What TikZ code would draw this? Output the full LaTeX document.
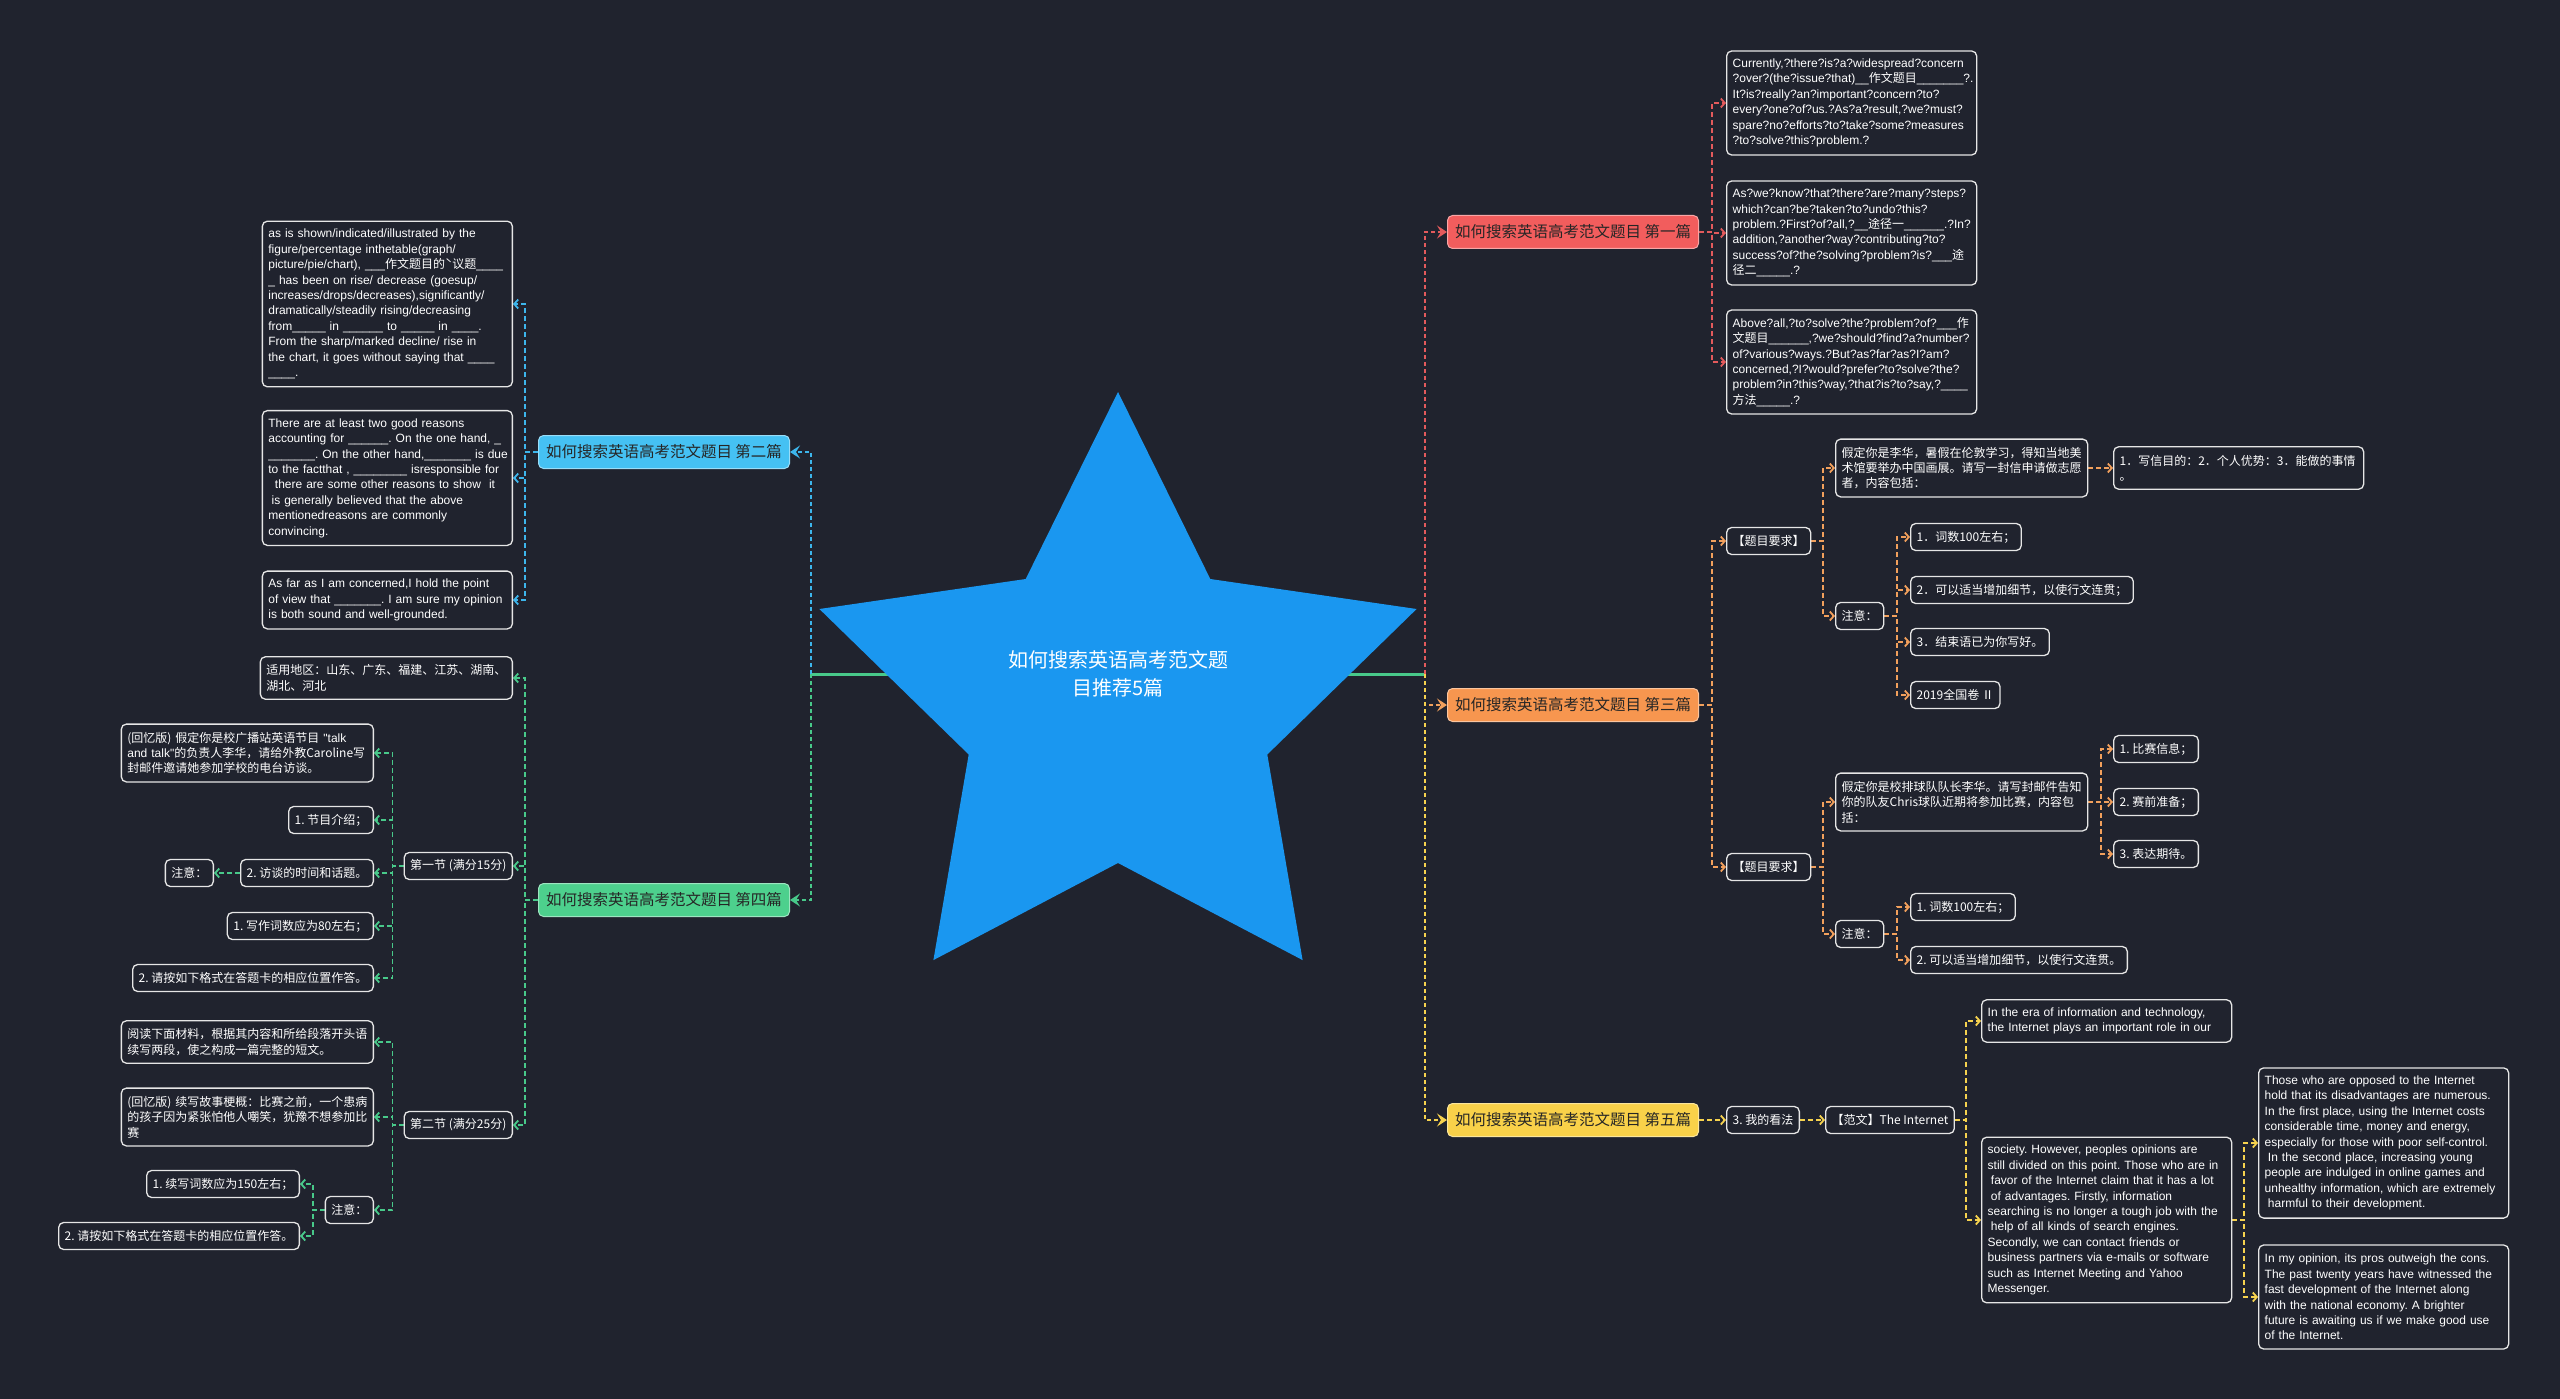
\documentclass[tikz,border=0pt]{standalone}
\usepackage{fontspec}
\setmainfont{Noto Sans CJK SC}
\newfontfamily\cjk{Noto Sans CJK SC}
\newfontfamily\lat{Liberation Sans}
\usetikzlibrary{arrows.meta}
\setlength{\parindent}{0pt}
\frenchspacing
\definecolor{bgc}{HTML}{20232E}
\definecolor{starc}{HTML}{1A97F0}
\definecolor{cred}{HTML}{F25D5D}
\definecolor{lred}{HTML}{E35A5C}
\definecolor{cblue}{HTML}{45C1F3}
\definecolor{lblue}{HTML}{3DB6EC}
\definecolor{corange}{HTML}{F7964F}
\definecolor{lorange}{HTML}{F2A05C}
\definecolor{cgreen}{HTML}{4DD08D}
\definecolor{lgreen}{HTML}{48C98A}
\definecolor{cyellow}{HTML}{F9D149}
\definecolor{lyellow}{HTML}{F6D24E}
\definecolor{ttext}{HTML}{262626}
\definecolor{bline}{HTML}{E6E6E6}
\newcommand\myfsz{\fontsize{12pt}{15.4pt}\selectfont}
\newcommand\myfen{\lat\fontsize{12pt}{15.4pt}\selectfont\frenchspacing}
\newcommand\ml[1]{\mbox{#1}}
\pgfdeclarelayer{back}
\pgfdeclarelayer{lines}
\pgfsetlayers{back,lines,main}
\begin{document}
\begin{tikzpicture}[x=1pt,y=-1pt,
 tbox/.style={draw=bline, line width=1.3pt, rounded corners=5pt, fill=bgc, text=white, inner xsep=6pt, inner ysep=0pt, minimum height=27pt, font=\myfsz},
 para/.style={tbox, align=left, text width=#1},
 en/.style={font=\myfen},
 nl/.style={minimum height={(#1-1)*15.4pt+27pt}},
 topic/.style={rounded corners=5pt, line width=1pt, inner xsep=7pt, inner ysep=0pt, minimum height=33pt, minimum width=251pt, text=ttext, font=\fontsize{15.5pt}{18pt}\selectfont},
 conn/.style={draw=#1, line width=1.8pt, dash pattern=on 5pt off 3pt, -{Straight Barb[length=4pt,width=9pt]}},
 mainconn/.style={draw=#1, line width=2pt, dash pattern=on 4pt off 3pt, -{Stealth[length=10pt,width=13pt,inset=4pt]}}
]
\begin{pgfonlayer}{back}
\fill[bgc] (0,0) rectangle (2560,1399);
\end{pgfonlayer}
\useasboundingbox (0,0) rectangle (2560,1399);

% central star
\fill[starc] (1118,392) -- (1210.3,579) -- (1416.6,609) -- (1267.3,754.5) -- (1302.6,960.1) -- (1118,863) -- (933.4,960.1) -- (968.7,754.5) -- (819.4,609) -- (1025.7,579) -- cycle;
\node[text=white, align=center, font=\fontsize{20pt}{28pt}\selectfont] (root) at (1118,674) {如何搜索英语高考范文题\\目推荐5篇};
\coordinate (jl) at (811,674);
\coordinate (jr) at (1425,674);

% main topics
\node[topic, fill=cred, draw=cred!55!white, anchor=west] (t1) at (1447,232) {如何搜索英语高考范文题目 第一篇};
\node[topic, fill=corange, draw=corange!55!white, anchor=west] (t3) at (1447,705) {如何搜索英语高考范文题目 第三篇};
\node[topic, fill=cyellow, draw=cyellow!55!white, anchor=west] (t5) at (1447,1120) {如何搜索英语高考范文题目 第五篇};
\node[topic, fill=cblue, draw=cblue!55!white, anchor=east] (t2) at (790,452) {如何搜索英语高考范文题目 第二篇};
\node[topic, fill=cgreen, draw=cgreen!55!white, anchor=east] (t4) at (790,900) {如何搜索英语高考范文题目 第四篇};

% first (red)
\node[para=238pt, en, nl=6, anchor=west] (r1) at (1726,103) {\ml{Currently,?there?is?a?widespread?concern}\\\ml{?over?(the?issue?that)\_\_{\cjk 作文题目}\_\_\_\_\_\_\_?.}\\\ml{It?is?really?an?important?concern?to?}\\\ml{every?one?of?us.?As?a?result,?we?must?}\\\ml{spare?no?efforts?to?take?some?measures}\\\ml{?to?solve?this?problem.?}};
\node[para=238pt, en, nl=6, anchor=west] (r2) at (1726,233) {\ml{As?we?know?that?there?are?many?steps?}\\\ml{which?can?be?taken?to?undo?this?}\\\ml{problem.?First?of?all,?\_\_{\cjk 途径一}\_\_\_\_\_\_.?In?}\\\ml{addition,?another?way?contributing?to?}\\\ml{success?of?the?solving?problem?is?\_\_\_{\cjk 途}}\\\ml{{\cjk 径二}\_\_\_\_\_.?}};
\node[para=238pt, en, nl=6, anchor=west] (r3) at (1726,362) {\ml{Above?all,?to?solve?the?problem?of?\_\_\_{\cjk 作}}\\\ml{{\cjk 文题目}\_\_\_\_\_\_,?we?should?find?a?number?}\\\ml{of?various?ways.?But?as?far?as?I?am?}\\\ml{concerned,?I?would?prefer?to?solve?the?}\\\ml{problem?in?this?way,?that?is?to?say,?\_\_\_\_}\\\ml{{\cjk 方法}\_\_\_\_\_.?}};

% third (orange)
\node[tbox, anchor=west] (o1) at (1726,541) {【题目要求】};
\node[para=240pt, nl=3, anchor=west] (o1a) at (1835,468) {假定你是李华，暑假在伦敦学习，得知当地美\\术馆要举办中国画展。请写一封信申请做志愿\\者，内容包括：};
\node[para=238pt, nl=2, anchor=west] (o1a1) at (2113,468) {1．写信目的：2．个人优势：3．能做的事情\\。};
\node[tbox, anchor=west] (o1b) at (1835,616) {注意：};
\node[tbox, anchor=west] (o1b1) at (1910,537) {1．词数100左右；};
\node[tbox, anchor=west] (o1b2) at (1910,590) {2．可以适当增加细节，以使行文连贯；};
\node[tbox, anchor=west] (o1b3) at (1910,642) {3．结束语已为你写好。};
\node[tbox, anchor=west] (o1b4) at (1910,695) {2019全国卷 Ⅱ};
\node[tbox, anchor=west] (o2) at (1726,867) {【题目要求】};
\node[para=240pt, nl=3, anchor=west] (o2a) at (1835,802) {假定你是校排球队队长李华。请写封邮件告知\\你的队友Chris球队近期将参加比赛，内容包\\括：};
\node[tbox, anchor=west] (o2a1) at (2113,749) {1. 比赛信息；};
\node[tbox, anchor=west] (o2a2) at (2113,802) {2. 赛前准备；};
\node[tbox, anchor=west] (o2a3) at (2113,854) {3. 表达期待。};
\node[tbox, anchor=west] (o2b) at (1835,934) {注意：};
\node[tbox, anchor=west] (o2b1) at (1910,907) {1. 词数100左右；};
\node[tbox, anchor=west] (o2b2) at (1910,960) {2. 可以适当增加细节，以使行文连贯。};

% fifth (yellow)
\node[tbox, anchor=west] (y1) at (1726,1120) {3. 我的看法};
\node[tbox, anchor=west] (y2) at (1825,1120) {【范文】The Internet};
\node[para=238pt, en, nl=2, anchor=west] (y2a) at (1981,1021) {\ml{In the era of information and technology,}\\\ml{the Internet plays an important role in our}};
\node[para=238pt, en, nl=10, anchor=west] (y2b) at (1981,1220) {\ml{society. However, peoples opinions are}\\\ml{still divided on this point. Those who are in}\\\ml{\hspace*{3.3pt}favor of the Internet claim that it has a lot}\\\ml{\hspace*{3.3pt}of advantages. Firstly, information}\\\ml{searching is no longer a tough job with the}\\\ml{\hspace*{3.3pt}help of all kinds of search engines.}\\\ml{Secondly, we can contact friends or}\\\ml{business partners via e-mails or software}\\\ml{such as Internet Meeting and Yahoo}\\\ml{Messenger.}};
\node[para=238pt, en, nl=9, anchor=west] (y2b1) at (2258,1143) {\ml{Those who are opposed to the Internet}\\\ml{hold that its disadvantages are numerous.}\\\ml{In the first place, using the Internet costs}\\\ml{considerable time, money and energy,}\\\ml{especially for those with poor self-control.}\\\ml{\hspace*{3.3pt}In the second place, increasing young}\\\ml{people are indulged in online games and}\\\ml{unhealthy information, which are extremely}\\\ml{\hspace*{3.3pt}harmful to their development.}};
\node[para=238pt, en, nl=6, anchor=west] (y2b2) at (2258,1297) {\ml{In my opinion, its pros outweigh the cons.}\\\ml{The past twenty years have witnessed the}\\\ml{fast development of the Internet along}\\\ml{with the national economy. A brighter}\\\ml{future is awaiting us if we make good use}\\\ml{of the Internet.}};

% second (blue)
\node[para=238pt, en, nl=10, anchor=east] (b1) at (513,304) {\ml{as is shown/indicated/illustrated by the}\\\ml{figure/percentage inthetable(graph/}\\\ml{picture/pie/chart), \_\_\_{\cjk 作文题目的ˋ议题}\_\_\_\_}\\\ml{\_ has been on rise/ decrease (goesup/}\\\ml{increases/drops/decreases),significantly/}\\\ml{dramatically/steadily rising/decreasing}\\\ml{from\_\_\_\_\_ in \_\_\_\_\_\_ to \_\_\_\_\_ in \_\_\_\_.}\\\ml{From the sharp/marked decline/ rise in}\\\ml{the chart, it goes without saying that \_\_\_\_}\\\ml{\_\_\_\_.}};
\node[para=238pt, en, nl=8, anchor=east] (b2) at (513,478) {\ml{There are at least two good reasons}\\\ml{accounting for \_\_\_\_\_\_. On the one hand, \_}\\\ml{\_\_\_\_\_\_\_. On the other hand,\_\_\_\_\_\_\_ is due}\\\ml{to the factthat , \_\_\_\_\_\_\_\_ isresponsible for}\\\ml{\hspace*{6.6pt}there are some other reasons to show\ \ it}\\\ml{\hspace*{3.3pt}is generally believed that the above}\\\ml{mentionedreasons are commonly}\\\ml{convincing.}};
\node[para=238pt, en, nl=3, anchor=east] (b3) at (513,600) {\ml{As far as I am concerned,I hold the point}\\\ml{of view that \_\_\_\_\_\_\_. I am sure my opinion}\\\ml{is both sound and well-grounded.}};

% fourth (green)
\node[para=240pt, nl=2, anchor=east] (g1) at (513,678) {适用地区：山东、广东、福建、江苏、湖南、\\湖北、河北};
\node[tbox, anchor=east] (g2) at (513,866) {第一节 (满分15分)};
\node[tbox, anchor=east] (g3) at (513,1125) {第二节 (满分25分)};
\node[para=240pt, nl=3, anchor=east] (g2a) at (374,753) {\ml{(回忆版) 假定你是校广播站英语节目 {\lat "talk}}\\\ml{{\lat and talk"}的负责人李华，请给外教Caroline写}\\封邮件邀请她参加学校的电台访谈。};
\node[tbox, anchor=east] (g2b) at (374,820) {1. 节目介绍；};
\node[tbox, anchor=east] (g2c) at (374,873) {2. 访谈的时间和话题。};
\node[tbox, anchor=east] (g2c1) at (214,873) {注意：};
\node[tbox, anchor=east] (g2d) at (374,926) {1. 写作词数应为80左右；};
\node[tbox, anchor=east] (g2e) at (374,978) {2. 请按如下格式在答题卡的相应位置作答。};
\node[para=240pt, nl=2, anchor=east] (g3a) at (374,1042) {阅读下面材料，根据其内容和所给段落开头语\\续写两段，使之构成一篇完整的短文。};
\node[para=240pt, nl=3, anchor=east] (g3b) at (374,1117) {\ml{(回忆版) 续写故事梗概：比赛之前，一个患病}\\的孩子因为紧张怕他人嘲笑，犹豫不想参加比\\赛};
\node[tbox, anchor=east] (g3c) at (374,1210) {注意：};
\node[tbox, anchor=east] (g3c1) at (300,1184) {1. 续写词数应为150左右；};
\node[tbox, anchor=east] (g3c2) at (300,1236) {2. 请按如下格式在答题卡的相应位置作答。};

% connectors
\begin{pgfonlayer}{lines}
\draw[lgreen, line width=3pt] (jl) -- (jr);
\draw[mainconn=lred] (jr) |- (t1.west);
\draw[mainconn=lorange] (jr) |- (t3.west);
\draw[mainconn=lyellow] (jr) |- (t5.west);
\draw[mainconn=lblue] (jl) |- (t2.east);
\draw[mainconn=lgreen] (jl) |- (t4.east);
\foreach \n in {r1,r2,r3} \draw[conn=lred] (t1.east) -- ++(13,0) |- (\n.west);
\foreach \n in {o1,o2} \draw[conn=lorange] (t3.east) -- ++(13,0) |- (\n.west);
\foreach \n in {o1a,o1b} \draw[conn=lorange] (o1.east) -- ++(12,0) |- (\n.west);
\draw[conn=lorange] (o1a.east) -- (o1a1.west);
\foreach \n in {o1b1,o1b2,o1b3,o1b4} \draw[conn=lorange] (o1b.east) -- ++(13,0) |- (\n.west);
\foreach \n in {o2a,o2b} \draw[conn=lorange] (o2.east) -- ++(12,0) |- (\n.west);
\foreach \n in {o2a1,o2a2,o2a3} \draw[conn=lorange] (o2a.east) -- ++(13,0) |- (\n.west);
\foreach \n in {o2b1,o2b2} \draw[conn=lorange] (o2b.east) -- ++(13,0) |- (\n.west);
\draw[conn=lyellow] (t5.east) -- (y1.west);
\draw[conn=lyellow] (y1.east) -- (y2.west);
\foreach \n in {y2a,y2b} \draw[conn=lyellow] (y2.east) -- ++(11,0) |- (\n.west);
\foreach \n in {y2b1,y2b2} \draw[conn=lyellow] (y2b.east) -- ++(12,0) |- (\n.west);
\foreach \n in {b1,b2,b3} \draw[conn=lblue] (t2.west) -- ++(-13,0) |- (\n.east);
\foreach \n in {g1,g2,g3} \draw[conn=lgreen] (t4.west) -- ++(-13,0) |- (\n.east);
\foreach \n in {g2a,g2b,g2c,g2d,g2e} \draw[conn=lgreen] (g2.west) -- ++(-11,0) |- (\n.east);
\draw[conn=lgreen] (g2c.west) -- (g2c1.east);
\foreach \n in {g3a,g3b,g3c} \draw[conn=lgreen] (g3.west) -- ++(-11,0) |- (\n.east);
\foreach \n in {g3c1,g3c2} \draw[conn=lgreen] (g3c.west) -- ++(-12,0) |- (\n.east);
\end{pgfonlayer}
\end{tikzpicture}
\end{document}
